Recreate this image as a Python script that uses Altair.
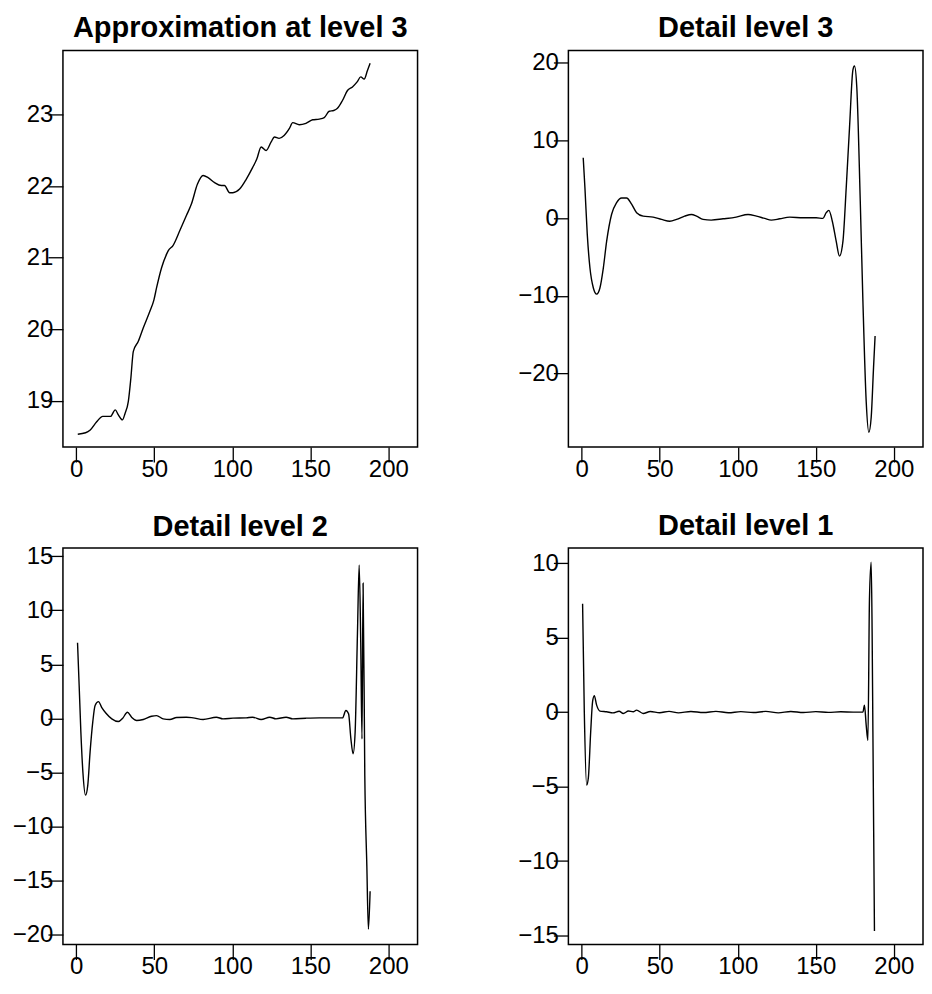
import altair as alt
import pandas as pd

# ---------------- data ----------------
approx_x = [1, 6, 9, 13, 17, 22, 25, 27, 29.6, 31.3, 33.4, 35, 36.6, 39.8, 43, 47.2, 49.8, 51.5,
            54.7, 57.9, 59, 62, 66.4, 70.6, 73.8, 77.7, 81.3, 84.5, 88.7, 93, 95, 98.3, 100.4,
            104.7, 109, 113, 115.7, 118.5, 121.7, 124.9, 127, 130, 133.2, 136.6, 138.7, 142.9,
            147.2, 151.5, 155.7, 158.9, 162.1, 165, 167.4, 170.6, 173.8, 177, 180, 182.3, 184.5,
            186.6, 188.3]
approx_y = [18.53, 18.55, 18.59, 18.70, 18.78, 18.78, 18.87, 18.80, 18.73, 18.82, 18.99, 19.31,
            19.69, 19.83, 20.02, 20.25, 20.41, 20.58, 20.86, 21.05, 21.10, 21.17, 21.38, 21.59,
            21.75, 22.03, 22.15, 22.12, 22.05, 22.01, 22.01, 21.91, 21.91, 21.96, 22.10, 22.26,
            22.38, 22.55, 22.50, 22.62, 22.69, 22.67, 22.71, 22.81, 22.89, 22.86, 22.88, 22.93,
            22.94, 22.96, 23.05, 23.06, 23.09, 23.20, 23.34, 23.39, 23.46, 23.53, 23.50, 23.62,
            23.72]

d3_x = [1, 2.1, 3.6, 5.3, 7.5, 9.6, 11.7, 13.9, 16, 19.2, 22.4, 25.6, 28.8, 32, 35.2, 39.4,
        45.8, 51.2, 56.5, 60.8, 66, 70.4, 73.6, 77.8, 83, 90.6, 99, 106.6, 112, 117.3, 121.5,
        126.9, 133.3, 141.8, 150.3, 154.6, 156.7, 158.4, 160.6, 163.1, 165.2, 167.4, 169.5,
        171.6, 173.8, 174.8, 176.3, 178.5, 180.2, 182.3, 184, 185.5, 187, 188]
d3_y = [7.77, 3.9, -2.1, -6.4, -9.0, -9.8, -9.0, -6.4, -3.0, 0.5, 2.0, 2.6, 2.6, 1.8, 0.7, 0.26,
        0.13, -0.17, -0.4, -0.17, 0.26, 0.47, 0.26, -0.17, -0.26, -0.09, 0.13, 0.47, 0.26, -0.04,
        -0.26, -0.09, 0.13, 0.04, 0.04, -0.04, 0.7, 1.0, -0.4, -3.0, -4.9, -3.0, 3.9, 11.6, 19.1,
        19.6, 16.8, 2.2, -10.7, -23.6, -27.6, -25.7, -19.3, -15.2]

d2_x = [0.85, 1.9, 3, 4.3, 6, 7.4, 8.9, 10.6, 12.1, 14.3, 16.4, 19.1, 22.8, 27, 29.8, 32.8,
        35.5, 38.7, 43, 48.3, 51.5, 55.7, 60, 64.3, 70.6, 74.9, 81.3, 89.8, 94, 100.4, 108.9,
        113, 118.5, 124, 128, 134.5, 138.7, 147.2, 155.7, 164, 170.6, 172.8, 174.5, 176, 177.4,
        178.7, 180.2, 181.3, 182.3, 183.1, 183.8, 184.9, 186.2, 187.2, 188.3]
d2_y = [7.0, 3.0, -1.3, -5.0, -7.1, -6.2, -3.1, -0.35, 1.2, 1.55, 1.0, 0.48, -0.04, -0.29, 0.02,
        0.57, 0.11, -0.2, -0.1, 0.2, 0.26, -0.04, -0.1, 0.08, 0.11, 0.05, -0.1, 0.11, -0.04,
        0.02, 0.05, 0.11, -0.1, 0.11, -0.04, 0.11, -0.04, 0.02, 0.05, 0.05, 0.05, 0.73, 0.42,
        -1.9, -3.27, -1.3, 7.9, 14.2, 7.0, -1.9, 12.5, -5.3, -13.6, -19.5, -16.0]

d1_x = [0.6, 1.7, 3.2, 4.3, 5.8, 7, 8.1, 9.6, 11.7, 16, 20, 24, 26.7, 30, 33, 35.2, 39.4, 44,
        50, 56, 62, 70, 78, 86, 94, 102, 110, 118, 126, 134, 142, 150, 158, 166, 174, 180.2,
        181.2, 182.3, 183.4, 184.4, 185.5, 186.1, 186.6, 187.6]
d1_y = [7.28, 0.0, -4.9, -4.4, -1.3, 0.7, 1.1, 0.47, 0.07, 0.02, -0.05, 0.06, -0.09, 0.07,
        0.02, 0.13, -0.09, 0.04, -0.04, 0.05, -0.05, 0.04, -0.03, 0.05, -0.04, 0.03, -0.03,
        0.05, -0.05, 0.04, -0.03, 0.03, -0.02, 0.02, 0.0, 0.0, 0.47, -0.87, -1.9, 7.6, 10.07,
        5.4, -1.3, -14.7]

x_ticks = [0, 50, 100, 150, 200]
x_domain = [-8.5, 218.7]

FONT = "Liberation Sans"
W, H = 355, 397


def panel(xs, ys, title, y_domain, y_ticks, title_offset=7):
    df = pd.DataFrame({"x": xs, "y": ys})
    return (
        alt.Chart(df)
        .mark_line(color="black", strokeWidth=1.4, interpolate="monotone", clip=True)
        .encode(
            x=alt.X("x:Q", scale=alt.Scale(domain=x_domain, nice=False, zero=False),
                    axis=alt.Axis(values=x_ticks, title=None)),
            y=alt.Y("y:Q", scale=alt.Scale(domain=y_domain, nice=False, zero=False),
                    axis=alt.Axis(values=y_ticks, title=None)),
        )
        .properties(
            width=W, height=H,
            title=alt.TitleParams(title, font=FONT, fontSize=29, fontWeight="bold",
                                  color="black", anchor="middle", offset=title_offset),
        )
    )


p1 = panel(approx_x, approx_y, "Approximation at level 3", [18.35, 23.9], [19, 20, 21, 22, 23])
p2 = panel(d3_x, d3_y, "Detail level 3", [-29.5, 21.6], [-20, -10, 0, 10, 20])
p3 = panel(d2_x, d2_y, "Detail level 2", [-20.92, 15.77], [-20, -15, -10, -5, 0, 5, 10, 15],
           title_offset=2)
p4 = panel(d1_x, d1_y, "Detail level 1", [-15.6, 11.02], [-15, -10, -5, 0, 5, 10])

chart = (
    alt.concat(p1, p2, p3, p4, columns=2,
               spacing=alt.RowColnumber(row=29, column=98))
    .properties(padding={"left": 3, "top": 5, "right": 0, "bottom": 0})
    .configure_view(stroke="black", strokeWidth=1.5)
    .configure_axis(domain=False, grid=False, tickColor="black", tickWidth=1.3,
                    tickSize=15, labelFont=FONT, labelFontSize=24, labelColor="black")
    .configure_axisY(labelPadding=-5)
    .configure_axisX(labelPadding=-5)
)

chart.save("out.html", embed_options={"renderer": "svg", "actions": False})
